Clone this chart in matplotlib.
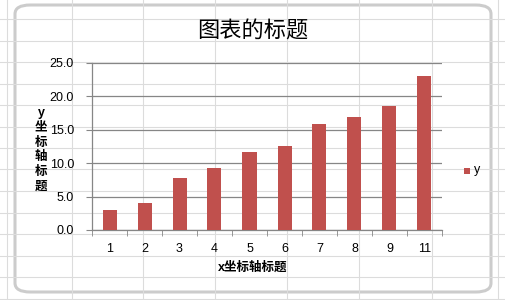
import matplotlib
matplotlib.use("Agg")
import matplotlib.pyplot as plt
from matplotlib.patches import FancyBboxPatch, Rectangle
from matplotlib.lines import Line2D
import numpy as np

categories = ["1", "2", "3", "4", "5", "6", "7", "8", "9", "11"]
values = [3.0, 4.1, 7.8, 9.3, 11.7, 12.6, 15.9, 16.9, 18.6, 23.0]
yticks = [0.0, 5.0, 10.0, 15.0, 20.0, 25.0]
title = "图表的标题"
xlabel = "x坐标轴标题"
ylabel = "y\n坐\n标\n轴\n标\n题"
series_name = "y"

W, H = 505, 300
plt.rcParams['font.family'] = ['Liberation Sans', 'Noto Sans CJK SC', 'DejaVu Sans']
fig = plt.figure(figsize=(W / 100, H / 100), dpi=100)
fig.patch.set_facecolor("white")

# spreadsheet grid behind the chart
for x in [7, 72, 143, 215, 287, 359, 432, 498]:
    fig.add_artist(Line2D([x / W, x / W], [0, 1], color="#dcdcdc", lw=0.8, transform=fig.transFigure))
for y in np.arange(19, 300, 21.5):
    fig.add_artist(Line2D([0, 1], [1 - y / H, 1 - y / H], color="#dcdcdc", lw=0.8, transform=fig.transFigure))

# chart frame
x0, y0, x1, y1 = 15, 5, 491, 292
frame = FancyBboxPatch((x0 / W, 1 - y1 / H), (x1 - x0) / W, (y1 - y0) / H,
                       boxstyle="round,pad=0,rounding_size=0.03",
                       transform=fig.transFigure, facecolor="white",
                       edgecolor="#cccccc", lw=2.2, zorder=1)
fig.add_artist(frame)

ax = fig.add_axes([92 / W, 1 - 230 / H, (442 - 92) / W, (230 - 62.7) / H])
ax.set_zorder(2)
ax.patch.set_alpha(0)
x = np.arange(len(categories))
ax.bar(x, values, width=0.4, color="#C0504D", zorder=3, label=series_name)
ax.set_xlim(-0.5, len(categories) - 0.5)
ax.set_ylim(0, 25)
ax.set_yticks(yticks)
ax.set_yticklabels([f"{v:.1f}" for v in yticks], fontsize=9)
ax.yaxis.grid(True, color="#868686", lw=0.9, zorder=0)
ax.set_xticks(x)
ax.set_xticklabels(categories, fontsize=9)
ax.tick_params(axis="x", length=0, pad=9)
ax.set_xticks(np.arange(-0.5, len(categories)), minor=True)
ax.tick_params(axis="x", which="minor", length=4, color="#868686", direction="out")
ax.tick_params(axis="y", length=4, color="#868686", direction="out", pad=9)
for s in ["top", "right"]:
    ax.spines[s].set_visible(False)
for s in ["left", "bottom"]:
    ax.spines[s].set_color("#868686")
    ax.spines[s].set_linewidth(0.9)

fig.text(253 / W, 1 - 31 / H, title, ha="center", va="center", fontsize=16,
         family=['Noto Sans CJK SC', 'DejaVu Sans'])
fig.text(253 / W, 1 - 268 / H, xlabel, ha="center", va="center", fontsize=9,
         fontweight="bold", family=['Liberation Sans', 'Noto Sans CJK SC'])
fig.text(41 / W, 1 - 150 / H, ylabel, ha="center", va="center", fontsize=9,
         fontweight="bold", linespacing=1.3, family=['Liberation Sans', 'Noto Sans CJK SC'])

# legend
fig.add_artist(Rectangle((464 / W, 1 - 173.5 / H), 6 / W, 6 / H, transform=fig.transFigure,
                         facecolor="#C0504D", edgecolor="none", zorder=3))
fig.text(474 / W, 1 - 170.5 / H, series_name, ha="left", va="center", fontsize=9)

fig.savefig("out.png", dpi=100)
